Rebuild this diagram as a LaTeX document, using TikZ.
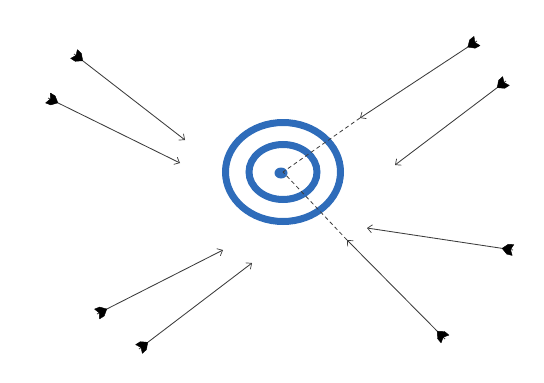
\documentclass[tikz,border=0pt]{standalone}
\usetikzlibrary{arrows.meta,calc}
\definecolor{ringblue}{RGB}{46,108,186}
\definecolor{shaftgray}{RGB}{60,60,60}
\tikzset{
  arrowshaft/.style={draw=shaftgray, line width=0.85pt,
    arrows={-Straight Barb[length=4.5pt,width=8pt,line width=0.7pt]}},
  fletch/.style={fill=black, draw=black, line width=0.4pt, line join=round},
  ring/.style={draw=ringblue, line width=7pt},
  aim/.style={draw=shaftgray, line width=0.8pt, dash pattern=on 4pt off 3pt},
}
\begin{document}
\begin{tikzpicture}[x=1pt,y=-1pt]
\useasboundingbox (0,0) rectangle (544,383);
% target
\coordinate (c) at (283,172);
\draw[ring] (c) ellipse [x radius=57.5, y radius=49.5];
\draw[ring] (c) ellipse [x radius=34, y radius=27.5];
\fill[ringblue] (281,173) ellipse [x radius=6.5, y radius=5.5];
% arrow ends
\coordinate (f1) at (74,54);   \coordinate (t1) at (185,140);
\coordinate (f2) at (48,98);   \coordinate (t2) at (180,163);
\coordinate (f3) at (477,41);  \coordinate (t3) at (360,118);
\coordinate (f4) at (506,81);  \coordinate (t4) at (395,165);
\coordinate (f5) at (513,250); \coordinate (t5) at (367,228);
\coordinate (f6) at (445,339); \coordinate (t6) at (347,240);
\coordinate (f7) at (97,314);  \coordinate (t7) at (223,250);
\coordinate (f8) at (139,349); \coordinate (t8) at (252,263);
% aiming lines
\draw[aim] (t3) -- (c);
\draw[aim] (t6) -- (c);
% arrows
\foreach \i in {1,...,8}{
  \draw[arrowshaft] (f\i) -- (t\i);
  \coordinate (a\i) at ($(f\i)!11pt!(t\i)$);
  \coordinate (m\i) at ($(f\i)!5.5pt!(t\i)$);
  \coordinate (n\i) at ($(f\i)!2.5pt!(t\i)$);
  \fill[fletch] (a\i) -- ($(m\i)!5pt!90:(t\i)$) -- ($(f\i)!5.5pt!90:(t\i)$)
     -- (n\i) -- ($(f\i)!5.5pt!-90:(t\i)$) -- ($(m\i)!5pt!-90:(t\i)$) -- cycle;
}
\end{tikzpicture}
\end{document}
